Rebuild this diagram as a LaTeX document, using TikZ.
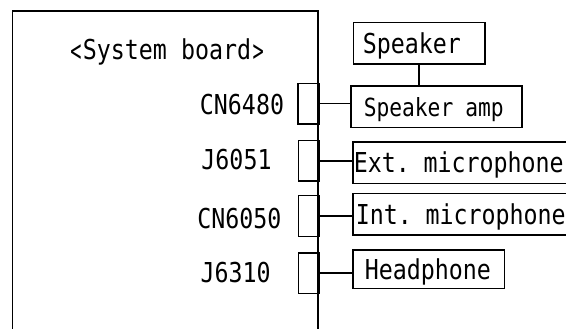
\documentclass[tikz,border=0pt]{standalone}
\usepackage{fontspec}
\setmainfont[FakeStretch=0.85]{DejaVu Sans Mono}
\usepackage{graphicx}
\usepackage{tikz}
\newcommand{\angl}{\makebox[14pt]{\raisebox{-1.5pt}{\scalebox{0.8}[1.1]{<}}}}
\newcommand{\angr}{\makebox[14pt]{\raisebox{-1.5pt}{\scalebox{0.8}[1.1]{>}}}}

\begin{document}
\begin{tikzpicture}
[
x=1pt, y=-1pt,
line width=1.5pt,
every node/.style={font=\fontsize{27.4}{30}\selectfont, text height=20pt, text depth=0pt},
jack/.style={draw, minimum width=21pt, minimum height=40.5pt, inner sep=0pt},
part/.style 2 args={draw, anchor=west, minimum height=41.5pt, inner ysep=0pt,
	text width=#1, inner xsep=#2, align=left}
]
\useasboundingbox (0,0) rectangle (566,329);

% system board
\draw (12.6,335) |- (318,11) -- (318,335);
\node (board) at (167,50) {\angl System board\angr};

% connectors on the board
\node[jack] (cn6480) at (308.5,103.7) {};
\node[jack] (j6051) at (308.8,160.8) {};
\node[jack] (cn6050) at (308.8,216) {};
\node[jack] (j6310) at (308.8,273.2) {};

\node (lcn6480) at (242,105) {CN6480};
\node (lj6051) at (236.5,160) {J6051};
\node (lcn6050) at (239.4,219) {CN6050};
\node (lj6310) at (235.7,272.7) {J6310};

% parts
\node[part={112.7pt}{9.3pt}] (spk) at (352.7,43.2) {Speaker};
\node[part={145pt}{13pt}, font=\fontsize{25}{28}\selectfont, text height=19pt] (amp)
	at (350,106.9) {Speaker\hspace{12pt}amp};
\node[part={238pt}{1pt}] (extmic) at (352,162.7) {Ext. microphone};
\node[part={234pt}{3pt}] (intmic) at (352,214.2) {Int. microphone};
\node[part={127.6pt}{12pt}, minimum height=38.5pt] (hp) at (352,269.2) {Headphone};

\draw (spk.south) -- (spk.south |- amp.north);
\draw (cn6480.east) -- (cn6480.east -| amp.west);
\draw (j6051.east) -- (j6051.east -| extmic.west);
\draw (cn6050.east) -- (cn6050.east -| intmic.west);
\draw (j6310.east) -- (j6310.east -| hp.west);
\end{tikzpicture}
\end{document}
